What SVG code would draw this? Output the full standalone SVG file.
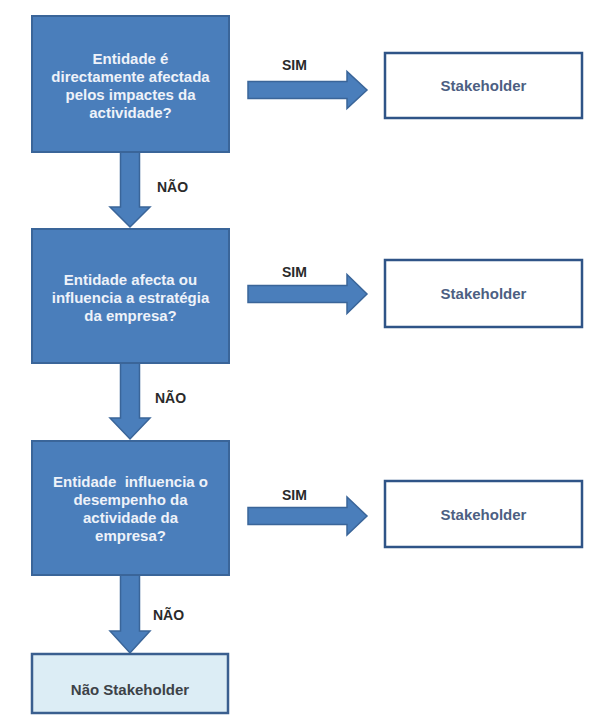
<svg xmlns="http://www.w3.org/2000/svg" width="598" height="719" viewBox="0 0 598 719">
<style>
.q{fill:#4a7ebb;stroke:#3a6599;stroke-width:2}
.s{fill:#ffffff;stroke:#2f5487;stroke-width:2.5}
.n{fill:#dcedf5;stroke:#3a5f8f;stroke-width:2.5}
.arr{fill:#4a7ebb;stroke:#3a6599;stroke-width:1.5;stroke-linejoin:miter}
.qt{font-family:"Liberation Sans",Arial,sans-serif;font-weight:bold;font-size:15px;fill:#eef2f9;text-anchor:middle}
.st{font-family:"Liberation Sans",Arial,sans-serif;font-weight:bold;font-size:15px;fill:#4d5f82;text-anchor:middle}
.nt{font-family:"Liberation Sans",Arial,sans-serif;font-weight:bold;font-size:15px;fill:#3c4248;text-anchor:middle}
.lb{font-family:"Liberation Sans",Arial,sans-serif;font-weight:bold;font-size:14px;fill:#2a2a2a}
</style>
<rect width="598" height="719" fill="#ffffff"/>
<g id="connectors">
<polygon class="arr" points="120.5,152 139.5,152 139.5,207 150,207 130,227 110,207 120.5,207"/>
<polygon class="arr" points="120.5,363 139.5,363 139.5,418 150,418 130,439 110,418 120.5,418"/>
<polygon class="arr" points="120.5,575 139.5,575 139.5,631 150,631 130,653 110,631 120.5,631"/>
<polygon class="arr" points="248,81.5 347,81.5 347,71.5 367,90 347,108.5 347,98.5 248,98.5"/>
<polygon class="arr" points="248,285.5 347,285.5 347,274.5 367,294 347,313.5 347,302.5 248,302.5"/>
<polygon class="arr" points="248,507.5 347,507.5 347,497 367,516 347,535 347,524.5 248,524.5"/>
<text class="lb" x="157" y="192">NÃO</text>
<text class="lb" x="155" y="403">NÃO</text>
<text class="lb" x="153" y="620">NÃO</text>
<text class="lb" x="282" y="70">SIM</text>
<text class="lb" x="282" y="277">SIM</text>
<text class="lb" x="282" y="500">SIM</text>
</g>
<g id="q1">
<rect class="q" x="32" y="16" width="197" height="136"/>
<text class="qt" x="130.5" y="64">Entidade é</text>
<text class="qt" x="130.5" y="82">directamente afectada</text>
<text class="qt" x="130.5" y="100">pelos impactes da</text>
<text class="qt" x="130.5" y="118">actividade?</text>
</g>
<g id="q2">
<rect class="q" x="32" y="229" width="197" height="134"/>
<text class="qt" x="130.5" y="285">Entidade afecta ou</text>
<text class="qt" x="130.5" y="303">influencia a estratégia</text>
<text class="qt" x="130.5" y="321">da empresa?</text>
</g>
<g id="q3">
<rect class="q" x="32" y="441" width="197" height="134"/>
<text class="qt" x="130.5" y="487" xml:space="preserve">Entidade  influencia o</text>
<text class="qt" x="130.5" y="505">desempenho da</text>
<text class="qt" x="130.5" y="523">actividade da</text>
<text class="qt" x="130.5" y="541">empresa?</text>
</g>
<g id="s1">
<rect class="s" x="385" y="53" width="197" height="65"/>
<text class="st" x="483.5" y="91">Stakeholder</text>
</g>
<g id="s2">
<rect class="s" x="385" y="260" width="197" height="67"/>
<text class="st" x="483.5" y="299">Stakeholder</text>
</g>
<g id="s3">
<rect class="s" x="385" y="481" width="197" height="66"/>
<text class="st" x="483.5" y="520">Stakeholder</text>
</g>
<g id="nao">
<rect class="n" x="32" y="654" width="196" height="59"/>
<text class="nt" x="130" y="695">Não Stakeholder</text>
</g>
</svg>
